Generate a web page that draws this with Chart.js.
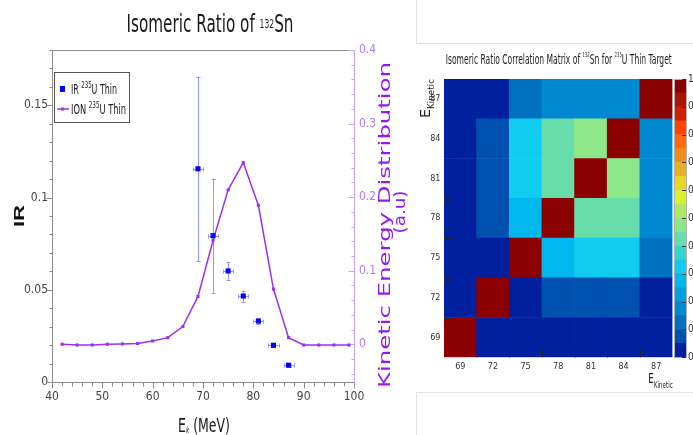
<!DOCTYPE html>
<html>
<head>
<meta charset="utf-8">
<title>Isomeric Ratio of 132Sn</title>
<script src="https://cdn.jsdelivr.net/npm/chart.js@4.4.1/dist/chart.umd.min.js"></script>
<style>
  html, body { margin: 0; padding: 0; background: #fff; }
  body { width: 693px; height: 435px; overflow: hidden; position: relative; }
  canvas { position: absolute; }
  .card { position: absolute; border: 1px solid #e2e2e2; background: #fff; }
</style>
</head>
<body>
<div class="card" style="left:416px; top:-2px; width:300px; height:44px"></div>
<div class="card" style="left:416px; top:392px; width:300px; height:60px"></div>
<canvas id="irChart" width="416" height="435" style="left:0;top:0"></canvas>
<canvas id="corrChart" width="280" height="355" style="left:400px;top:40px"></canvas>
<canvas id="scaleChart" width="60" height="355" style="left:668px;top:40px"></canvas>
<script>
// isomeric ratio per kinetic energy bin (MeV)
const energyBins = [69, 72, 75, 78, 81, 84, 87];
const irRatio = [0.1156, 0.0793, 0.0602, 0.0466, 0.0330, 0.0199, 0.0091];
const irRatioErr = [0.050, 0.031, 0.0047, 0.0030, 0.0015, 0.0010, 0.0007];
const irEnergyErr = [1, 1, 1, 1, 1, 1, 1];

// ion kinetic energy distribution
const ionEnergy = [42, 45, 48, 51, 54, 57, 60, 63, 66, 69, 72, 75, 78, 81, 84, 87, 90, 93, 96, 99];
const ionDist = [0, -0.001, -0.001, 0, 0.0005, 0.001, 0.0045, 0.009, 0.024, 0.065, 0.141, 0.21, 0.247, 0.189, 0.075, 0.009, -0.001, -0.001, -0.001, -0.001];

const energyTicks = [40, 50, 60, 70, 80, 90, 100];
const irTicks = [0, 0.05, 0.1, 0.15];
const ionTicks = [0, 0.1, 0.2, 0.3, 0.4];

// correlation matrix, rows = y bin 69..87, cols = x bin 69..87
const binWidth = 3;
const corrMatrix = [
  [1.00, 0.02, 0.02, 0.02, 0.02, 0.02, 0.02],
  [0.02, 1.00, 0.02, 0.07, 0.07, 0.07, 0.02],
  [0.02, 0.02, 1.00, 0.27, 0.32, 0.32, 0.12],
  [0.02, 0.07, 0.27, 1.00, 0.42, 0.42, 0.17],
  [0.02, 0.07, 0.32, 0.42, 1.00, 0.47, 0.17],
  [0.02, 0.07, 0.32, 0.42, 0.47, 1.00, 0.17],
  [0.02, 0.02, 0.12, 0.17, 0.17, 0.17, 1.00]
];
const zTicks = [0, 0.1, 0.2, 0.3, 0.4, 0.5, 0.6, 0.7, 0.8, 0.9, 1];

// 20 step rainbow palette, low to high
const palette = ['#0020a0', '#0050b0', '#0070c0', '#0088d0', '#00a0e0', '#00b8ee', '#11ccee', '#33d6cc',
  '#66ddaa', '#8ee888', '#b0e860', '#d8f030', '#e6d820', '#e8b020', '#f08c1a', '#ff6a10',
  '#ff4400', '#cc2200', '#aa1500', '#8b0000'];

const NARROW = '"Liberation Sans Narrow", "DejaVu Sans Condensed", "Liberation Sans", Arial, sans-serif';
const DEJAVU = '"DejaVu Sans", Verdana, sans-serif';
const VIOLET = '#9a30f5';

function paletteColor(v) {
  return palette[Math.min(palette.length - 1, Math.floor(v * palette.length))];
}

const fmt = v => String(+(+v).toFixed(3));

// text with super/subscripts, optionally squeezed to a given width
function richText(ctx, parts, o) {
  const size = o.size;
  const fontFor = m => {
    const s = m === 'sup' ? size * (o.supScale || 0.6) : m === 'sub' ? size * (o.subScale || 0.6) : size;
    return `${o.italic && m === 'sub' ? 'italic' : 'normal'} ${o.weight || 'normal'} ${s}px ${o.family || NARROW}`;
  };
  ctx.save();
  ctx.translate(o.x, o.y);
  if (o.rotate) ctx.rotate(o.rotate);
  let total = 0;
  const segs = parts.map(p => {
    const [text, mode] = Array.isArray(p) ? p : [p, ''];
    ctx.font = fontFor(mode);
    const w = ctx.measureText(text).width;
    total += w;
    return { text, mode, w, font: ctx.font };
  });
  if (o.width) ctx.scale(o.width / total, 1);
  let x = o.align === 'left' ? 0 : -total / 2;
  ctx.fillStyle = o.color || '#111';
  ctx.textAlign = 'left';
  ctx.textBaseline = 'alphabetic';
  for (const s of segs) {
    ctx.font = s.font;
    const dy = s.mode === 'sup' ? -size * (o.supRise || 0.4) : s.mode === 'sub' ? size * (o.subDrop || 0.2) : 0;
    ctx.fillText(s.text, x, dy);
    x += s.w;
  }
  ctx.restore();
}

const px = v => Math.round(v) + 0.5;

// frame, tick marks and error bars of the ratio plot
const irDecor = {
  id: 'irDecor',
  beforeDatasetsDraw(chart) {
    const { ctx, chartArea: a, scales: { x, y, y2 } } = chart;
    const L = px(a.left), R = px(a.right), T = px(a.top), B = px(a.bottom);
    ctx.save();
    ctx.lineWidth = 1;
    ctx.strokeStyle = '#8c8c8c';
    ctx.beginPath();
    ctx.moveTo(R, T); ctx.lineTo(L, T); ctx.lineTo(L, B); ctx.lineTo(R, B);
    for (let i = 0; i <= 30; i++) {
      const xp = px(x.getPixelForValue(x.min + i * 2));
      ctx.moveTo(xp, B); ctx.lineTo(xp, B + (i % 5 === 0 ? 6 : 4));
    }
    for (let i = 0; i <= 18; i++) {
      const yp = px(y.getPixelForValue(i * 0.01));
      ctx.moveTo(L, yp); ctx.lineTo(L - (i % 5 === 0 ? 6 : 3), yp);
    }
    ctx.stroke();

    ctx.strokeStyle = '#c9a2ff';
    ctx.beginPath();
    ctx.moveTo(R, T); ctx.lineTo(R, B);
    for (let i = -2; i <= 20; i++) {
      const yp = px(y2.getPixelForValue(i * 0.02));
      ctx.moveTo(R, yp); ctx.lineTo(R - (i % 5 === 0 ? 6 : 3), yp);
    }
    ctx.stroke();

    // error bars
    chart.data.datasets.forEach(ds => {
      if (!ds.yErr) return;
      const ys = chart.scales[ds.yAxisID];
      ctx.strokeStyle = '#9393ff';
      ctx.beginPath();
      ds.data.forEach((d, i) => {
        const cx = x.getPixelForValue(d.x), cy = y.getPixelForValue(d.y);
        const yt = ys.getPixelForValue(d.y + ds.yErr[i]), yb = ys.getPixelForValue(d.y - ds.yErr[i]);
        const xl = x.getPixelForValue(d.x - ds.xErr[i]), xr = x.getPixelForValue(d.x + ds.xErr[i]);
        ctx.moveTo(px(cx), yt); ctx.lineTo(px(cx), yb);
        ctx.moveTo(px(cx) - 2, px(yt)); ctx.lineTo(px(cx) + 2, px(yt));
        ctx.moveTo(px(cx) - 2, px(yb)); ctx.lineTo(px(cx) + 2, px(yb));
        ctx.moveTo(xl, px(cy)); ctx.lineTo(xr, px(cy));
        ctx.moveTo(px(xl), px(cy) - 2); ctx.lineTo(px(xl), px(cy) + 2);
        ctx.moveTo(px(xr), px(cy) - 2); ctx.lineTo(px(xr), px(cy) + 2);
      });
      ctx.stroke();
    });
    ctx.restore();
  },
  afterDraw(chart) {
    const { ctx, chartArea: a } = chart;
    const midY = (a.top + a.bottom) / 2;
    richText(ctx, ['Isomeric Ratio of ', ['132', 'sup'], 'Sn'],
      { x: 210, y: 32, size: 25, width: 167, supScale: 0.5, supRise: 0.17, color: '#1a1a1a' });
    richText(ctx, ['E', ['k', 'sub'], ' (MeV)'],
      { x: 204, y: 431.5, size: 20, width: 52, subScale: 0.45, subDrop: 0.08, italic: true, color: '#1a1a1a' });
    richText(ctx, ['IR'],
      { x: 24, y: midY, rotate: -Math.PI / 2, size: 15, weight: 'bold', family: '"Liberation Sans", Arial, sans-serif', width: 22, color: '#111' });
    richText(ctx, ['Kinetic Energy Distribution'],
      { x: 389.5, y: 225, rotate: -Math.PI / 2, size: 15, family: DEJAVU, width: 326, color: '#9418f0' });
    richText(ctx, ['(a.u)'],
      { x: 404.5, y: 212, rotate: -Math.PI / 2, size: 15, family: DEJAVU, width: 43, color: '#9418f0' });

    // legend
    ctx.save();
    ctx.fillStyle = '#fff';
    ctx.strokeStyle = '#555';
    ctx.lineWidth = 1;
    ctx.fillRect(54.5, 72.5, 75, 50);
    ctx.strokeRect(54.5, 72.5, 75, 50);
    const [irDs, ionDs] = chart.data.datasets;
    ctx.fillStyle = irDs.backgroundColor;
    ctx.fillRect(60, 86, 5, 6);
    ctx.strokeStyle = ionDs.borderColor;
    ctx.lineWidth = 1.5;
    ctx.beginPath(); ctx.moveTo(57, 109); ctx.lineTo(69, 109); ctx.stroke();
    ctx.fillStyle = ionDs.borderColor;
    ctx.fillRect(61, 107.5, 3, 3);
    ctx.restore();
    chart.data.datasets.forEach((ds, i) => {
      richText(ctx, ds.legendParts, { x: 71, y: 94.3 + i * 20, size: 14, align: 'left', width: ds.legendWidth,
        supScale: 0.68, supRise: 0.48, color: '#222' });
    });
  }
};

const axisFont = { family: NARROW, size: 12 };
const noGrid = { display: false, drawTicks: false };

new Chart(document.getElementById('irChart'), {
  type: 'scatter',
  data: {
    datasets: [
      {
        label: 'IR 235U Thin',
        legendParts: ['IR ', ['235', 'sup'], 'U Thin'],
        legendWidth: 46,
        data: energyBins.map((e, i) => ({ x: e, y: irRatio[i] })),
        yErr: irRatioErr,
        xErr: irEnergyErr,
        yAxisID: 'y',
        showLine: false,
        pointStyle: 'rect',
        pointRadius: 3.6,
        backgroundColor: '#0000ff',
        borderColor: '#0000ff',
        borderWidth: 0
      },
      {
        label: 'ION 235U Thin',
        legendParts: ['ION ', ['235', 'sup'], 'U Thin'],
        legendWidth: 55,
        data: ionEnergy.map((e, i) => ({ x: e, y: ionDist[i] })),
        yAxisID: 'y2',
        showLine: true,
        borderColor: VIOLET,
        backgroundColor: VIOLET,
        borderWidth: 1.5,
        pointStyle: 'rect',
        pointRadius: 2.2,
        pointBorderWidth: 0
      }
    ]
  },
  options: {
    responsive: false,
    animation: false,
    layout: { padding: { top: 50, left: 0, right: 0, bottom: 0 } },
    plugins: { legend: { display: false }, tooltip: { enabled: false } },
    scales: {
      x: {
        type: 'linear', min: 40, max: 100,
        grid: noGrid, border: { display: false },
        afterBuildTicks: s => { s.ticks = energyTicks.map(v => ({ value: v })); },
        ticks: { padding: 8, color: '#444', font: axisFont, callback: fmt },
        afterFit: s => { s.height = 53; }
      },
      y: {
        position: 'left', min: 0, max: 0.18,
        grid: noGrid, border: { display: false },
        afterBuildTicks: s => { s.ticks = irTicks.map(v => ({ value: v })); },
        ticks: { padding: 4, color: '#444', font: axisFont, callback: fmt },
        afterFit: s => { s.width = 52; }
      },
      y2: {
        position: 'right', min: -0.0513, max: 0.4,
        grid: noGrid, border: { display: false },
        afterBuildTicks: s => { s.ticks = ionTicks.map(v => ({ value: v })); },
        ticks: { padding: 5, color: '#b07aff', font: axisFont, callback: fmt },
        afterFit: s => { s.width = 62; }
      }
    }
  },
  plugins: [irDecor]
});

// correlation matrix: one floating bar per cell spanning its energy bin
const corrDecor = {
  id: 'corrDecor',
  afterDatasetsDraw(chart) {
    const { ctx, chartArea: a, scales: { x, y } } = chart;
    ctx.save();
    ctx.strokeStyle = '#222';
    ctx.lineWidth = 1;
    ctx.beginPath();
    for (let i = 0; i < energyBins.length - 1; i++) {
      const xe = px((x.getPixelForValue(i) + x.getPixelForValue(i + 1)) / 2);
      ctx.moveTo(xe, a.bottom); ctx.lineTo(xe, a.bottom - 7);
      const ye = px(y.getPixelForValue(energyBins[i] + binWidth / 2));
      ctx.moveTo(a.left, ye); ctx.lineTo(a.left + 7, ye);
    }
    ctx.stroke();
    ctx.restore();
    richText(ctx, ['Isomeric Ratio Correlation Matrix of ', ['132', 'sup'], 'Sn for ', ['235', 'sup'], 'U Thin Target'],
      { x: 158.8, y: 24.3, size: 14, width: 226, supScale: 0.5, supRise: 0.5, color: '#222' });
    richText(ctx, ['E', ['Kinetic', 'sub']],
      { x: 248.3, y: 343.3, size: 14, align: 'left', width: 24.4, subScale: 0.62, subDrop: 0.33, color: '#222' });
    richText(ctx, ['E', ['Kinetic', 'sub']],
      { x: 29.5, y: 78, rotate: -Math.PI / 2, size: 14, align: 'left', width: 39, subScale: 0.62, subDrop: 0.3, color: '#222' });
  }
};

const tinyFont = { family: NARROW, size: 9 };

new Chart(document.getElementById('corrChart'), {
  type: 'bar',
  data: {
    labels: energyBins,
    datasets: corrMatrix.map((row, r) => ({
      label: 'E ' + energyBins[r],
      data: energyBins.map(() => [energyBins[r] - binWidth / 2, energyBins[r] + binWidth / 2]),
      backgroundColor: row.map(paletteColor),
      borderWidth: 0,
      grouped: false,
      barPercentage: 1,
      categoryPercentage: 1
    }))
  },
  options: {
    responsive: false,
    animation: false,
    layout: { padding: { top: 39, right: 7.5, left: 0, bottom: 0 } },
    plugins: { legend: { display: false }, tooltip: { enabled: false } },
    scales: {
      x: {
        grid: noGrid, border: { display: false },
        ticks: { padding: 4, color: '#333', font: tinyFont, autoSkip: false, maxRotation: 0 },
        afterFit: s => { s.height = 37.7; }
      },
      y: {
        type: 'linear', min: energyBins[0] - binWidth / 2, max: energyBins[energyBins.length - 1] + binWidth / 2,
        grid: noGrid, border: { display: false },
        afterBuildTicks: s => { s.ticks = energyBins.map(v => ({ value: v })); },
        ticks: { padding: 3.5, color: '#333', font: tinyFont, autoSkip: false, callback: fmt },
        afterFit: s => { s.width = 44; }
      }
    }
  },
  plugins: [corrDecor]
});

// colour scale of the matrix
const scaleDecor = {
  id: 'scaleDecor',
  afterDatasetsDraw(chart) {
    const { ctx, chartArea: a, scales: { y } } = chart;
    ctx.save();
    ctx.strokeStyle = '#b0b0b0';
    ctx.lineWidth = 1;
    ctx.strokeRect(px(a.left), px(a.top), Math.round(a.right - a.left), Math.round(a.bottom - a.top));
    ctx.strokeStyle = '#333';
    ctx.beginPath();
    zTicks.forEach(v => {
      const yp = px(y.getPixelForValue(v));
      ctx.moveTo(a.right, yp); ctx.lineTo(a.right - 4, yp);
    });
    ctx.stroke();
    ctx.restore();
  }
};

new Chart(document.getElementById('scaleChart'), {
  type: 'bar',
  data: {
    labels: ['z'],
    datasets: palette.map((c, k) => ({
      data: [[k / palette.length, (k + 1) / palette.length]],
      backgroundColor: c,
      borderWidth: 0,
      grouped: false,
      barPercentage: 1,
      categoryPercentage: 1
    }))
  },
  options: {
    responsive: false,
    animation: false,
    layout: { padding: { top: 39, left: 6, right: 0, bottom: 37.7 } },
    plugins: { legend: { display: false }, tooltip: { enabled: false } },
    scales: {
      x: { display: false },
      y: {
        position: 'right', min: 0, max: 1,
        grid: noGrid, border: { display: false },
        afterBuildTicks: s => { s.ticks = zTicks.map(v => ({ value: v })); },
        ticks: { padding: 2, color: '#333', font: { family: NARROW, size: 10 }, callback: fmt },
        afterFit: s => { s.width = 42; }
      }
    }
  },
  plugins: [scaleDecor]
});
</script>
</body>
</html>
